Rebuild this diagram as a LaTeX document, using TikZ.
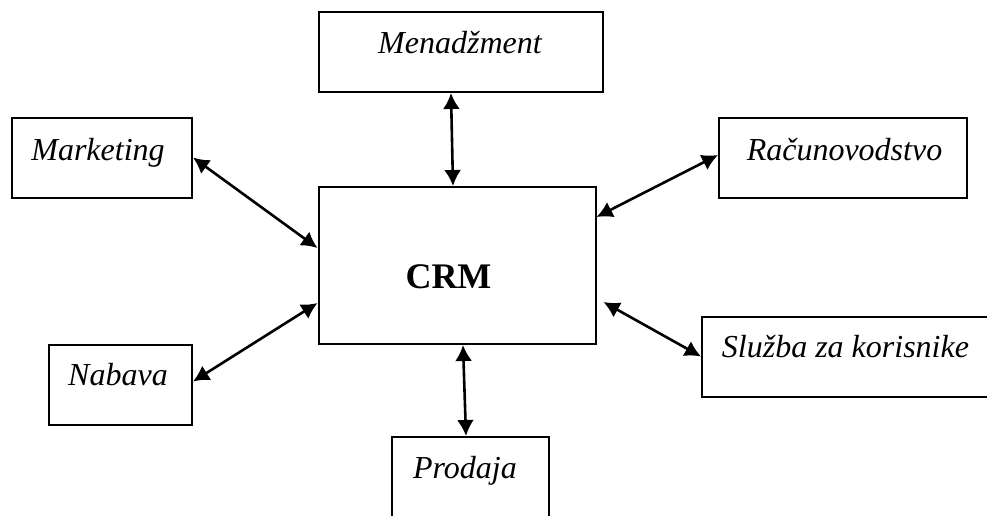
\documentclass[tikz,border=0pt]{standalone}
\usepackage{fontspec}
\setmainfont{Liberation Serif}
\usetikzlibrary{arrows.meta,positioning}

\begin{document}
\begin{tikzpicture}[
  x=0.5pt, y=-0.5pt,
  box/.style={draw, line width=1pt, minimum height=40pt, inner sep=0pt},
  lbl/.style={anchor=base, inner sep=0pt, font=\fontsize{16}{19}\selectfont\itshape},
  link/.style={{Latex[length=8pt,width=8.5pt]}-{Latex[length=8pt,width=8.5pt]}, line width=1.3pt},
]
\useasboundingbox (0,0) rectangle (987,515);
\clip (0,0) rectangle (987,515);
\node[box, minimum width=142pt] (menadzment) at (461,52) {};
\node[box, minimum width=90pt] (marketing) at (102,157.5) {};
\node[box, minimum width=124pt] (racun) at (843,158) {};
\node[box, minimum width=138.5pt, minimum height=78.5pt] (crm) at (457,265.5) {};
\node[box, minimum width=71.5pt] (nabava) at (120.5,384.5) {};
\node[box, minimum width=145pt] (sluzba) at (847,356.5) {};
\node[box, minimum width=78.5pt] (prodaja) at (470.5,477) {};
\node[lbl] (menadzmenttxt) at (460,53) {Menadžment};
\node[lbl] (marketingtxt) at (98,160) {Marketing};
\node[lbl] (racuntxt) at (844.5,160) {Računovodstvo};
\node[lbl] (nabavatxt) at (118,385) {Nabava};
\node[lbl] (sluzbatxt) at (845.5,357) {Služba za korisnike};
\node[lbl] (prodajatxt) at (465,478) {Prodaja};
\node[lbl, font=\fontsize{18}{22}\selectfont\bfseries] (crmtxt) at (448.5,288) {CRM};
\draw[link] ([xshift=-5pt]menadzment.south) -- ([xshift=-2pt]crm.north);
\draw[link] (marketing.east) -- ([yshift=8.75pt]crm.west);
\draw[link] ([yshift=1.5pt]nabava.east) -- ([yshift=-18.75pt]crm.west);
\draw[link] ([yshift=1.5pt]racun.west) -- ([yshift=24.25pt]crm.east);
\draw[link] (sluzba.west) -- ([xshift=3.5pt,yshift=-18.25pt]crm.east);
\draw[link] ([xshift=3pt]crm.south) -- ([xshift=-2.25pt]prodaja.north);
\end{tikzpicture}
\end{document}
